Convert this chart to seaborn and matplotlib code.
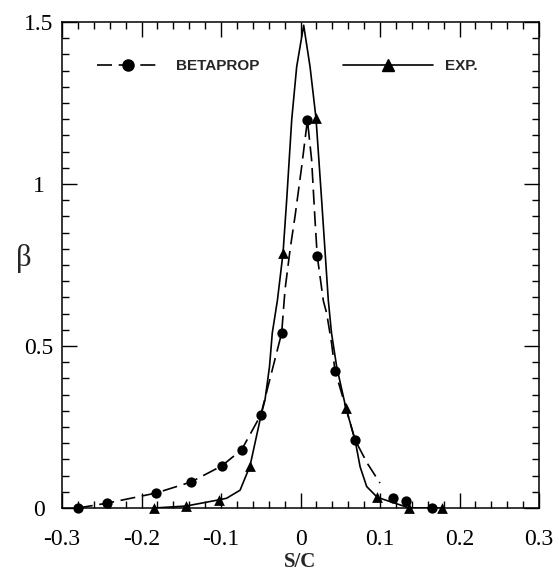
import matplotlib
matplotlib.use("Agg")
import matplotlib.pyplot as plt
from matplotlib.lines import Line2D
from matplotlib.ticker import MultipleLocator, FuncFormatter
import seaborn as sns
import pandas as pd

# ---- data ----
# EXP (solid line, triangle markers)
exp_line_x = [-0.184, -0.144, -0.103, -0.093, -0.076, -0.0635, -0.049, -0.0447, -0.039,
              -0.0355, -0.029, -0.022, -0.0174, -0.011, -0.0048, 0.004, 0.012, 0.0195,
              0.0266, 0.035, 0.039, 0.0455, 0.057, 0.0686, 0.075, 0.0833, 0.0966,
              0.137, 0.178]
exp_line_y = [0.0, 0.006, 0.025, 0.03, 0.055, 0.13, 0.293, 0.333, 0.436,
              0.54, 0.642, 0.786, 0.95, 1.2, 1.362, 1.49, 1.362, 1.203,
              0.95, 0.64, 0.54, 0.436, 0.31, 0.21, 0.127, 0.066, 0.033,
              0.0, 0.0]
exp_mark_x = [-0.184, -0.144, -0.103, -0.0635, -0.022, 0.0195, 0.057, 0.0966, 0.137, 0.178]
exp_mark_y = [0.0, 0.006, 0.025, 0.13, 0.786, 1.203, 0.31, 0.033, 0.0, 0.0]

# BETAPROP (dashed line, circle markers)
bp_line_x = [-0.280, -0.243, -0.182, -0.138, -0.099, -0.074, -0.05, -0.0237, -0.0195,
             -0.0132, -0.0069, 0.0015, 0.0087, 0.014, 0.018, 0.021, 0.0287, 0.033,
             0.039, 0.0434, 0.057, 0.0686, 0.084, 0.1]
bp_line_y = [0.0, 0.015, 0.046, 0.08, 0.13, 0.18, 0.287, 0.54, 0.673,
             0.796, 0.9, 1.054, 1.197, 1.074, 0.9, 0.779, 0.64, 0.6,
             0.51, 0.424, 0.31, 0.21, 0.138, 0.077]
bp_mark_x = [-0.280, -0.243, -0.182, -0.138, -0.099, -0.074, -0.05, -0.0237, 0.0087,
             0.021, 0.0434, 0.0686, 0.116, 0.133, 0.165]
bp_mark_y = [0.0, 0.015, 0.046, 0.08, 0.13, 0.18, 0.287, 0.54, 1.197,
             0.779, 0.424, 0.21, 0.03, 0.022, 0.0]

x_ticks = [-0.3, -0.2, -0.1, 0.0, 0.1, 0.2, 0.3]
y_ticks = [0.0, 0.5, 1.0, 1.5]
series_names = ["BETAPROP", "EXP."]

# ---- style ----
sns.set_style("ticks")
plt.rcParams["font.family"] = ["Liberation Serif", "DejaVu Serif"]
plt.rcParams["axes.unicode_minus"] = False

fig = plt.figure(figsize=(5.59, 5.73), dpi=100)
ax = fig.add_axes([62 / 559, 65 / 573, 477 / 559, 486 / 573])

lw = 1.2
dash = (0, (9, 4))

exp_line = pd.DataFrame({"x": exp_line_x, "y": exp_line_y})
bp_line = pd.DataFrame({"x": bp_line_x, "y": bp_line_y})
sns.lineplot(data=exp_line, x="x", y="y", ax=ax, sort=False, estimator=None,
             color="black", linewidth=lw)
sns.lineplot(data=bp_line, x="x", y="y", ax=ax, sort=False, estimator=None,
             color="black", linewidth=lw, linestyle=dash)
sns.scatterplot(x=bp_mark_x, y=bp_mark_y, ax=ax, marker="o", s=55, color="black",
                edgecolor="black", linewidth=0, zorder=5, clip_on=False)
sns.scatterplot(x=exp_mark_x, y=exp_mark_y, ax=ax, marker="^", s=60, color="black",
                edgecolor="black", linewidth=0, zorder=5, clip_on=False)

ax.set_xlim(-0.3, 0.3)
ax.set_ylim(0, 1.5)
ax.set_xticks(x_ticks)
ax.set_yticks(y_ticks)
ax.xaxis.set_minor_locator(MultipleLocator(0.02))
ax.yaxis.set_minor_locator(MultipleLocator(0.05))
fmt = FuncFormatter(lambda v, p: f"{v:g}" if abs(v) > 1e-9 else "0")
ax.xaxis.set_major_formatter(fmt)
ax.yaxis.set_major_formatter(fmt)
ax.tick_params(which="both", direction="in", top=True, right=True, width=1.0,
               colors="black", labelsize=17)
ax.tick_params(which="major", length=11)
ax.tick_params(which="minor", length=5)
ax.tick_params(axis="x", which="major", pad=15)
ax.tick_params(axis="y", which="major", pad=16.5)
for lab in ax.get_yticklabels():
    lab.set_horizontalalignment("center")
for sp in ax.spines.values():
    sp.set_linewidth(1.1)
    sp.set_color("black")

ax.set_xlabel("S/C", fontsize=15, fontweight="bold")
ax.xaxis.set_label_coords(0.5, -0.111)
ax.xaxis.label.set_verticalalignment("center")
ax.set_ylabel("β", fontsize=22, rotation=0)
ax.yaxis.set_label_coords(-0.081, 0.514)
ax.yaxis.label.set_verticalalignment("center")
ax.yaxis.label.set_horizontalalignment("center")

# legends
h_bp = Line2D([], [], color="black", linewidth=lw, linestyle=dash, marker="o", markersize=8)
h_exp = Line2D([], [], color="black", linewidth=lw, linestyle="-", marker="^", markersize=8)
legprops = dict(family=["Liberation Sans", "DejaVu Sans"], weight="bold", size=11)
leg1 = ax.legend(handles=[h_bp], labels=[series_names[0]], loc="center left",
                 bbox_to_anchor=(0.073, 0.909), frameon=False, borderpad=0,
                 borderaxespad=0, handlelength=4.1, handletextpad=1.1, prop=legprops)
ax.add_artist(leg1)
ax.legend(handles=[h_exp], labels=[series_names[1]], loc="center left",
          bbox_to_anchor=(0.589, 0.909), frameon=False, borderpad=0,
          borderaxespad=0, handlelength=5.9, handletextpad=0.8, prop=legprops)

fig.savefig("out.png", dpi=100)
